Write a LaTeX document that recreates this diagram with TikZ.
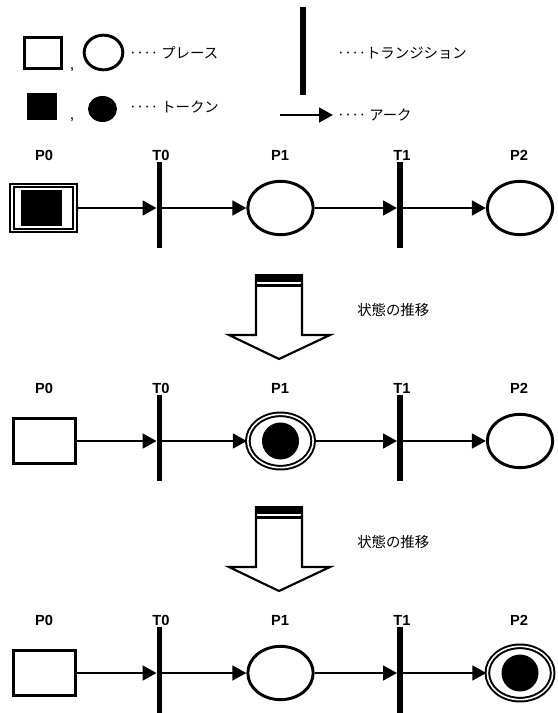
\documentclass[tikz,border=0pt]{standalone}
\usepackage{fontspec}
\setmainfont{Liberation Sans}
\newfontfamily\jpfont{Noto Sans CJK JP}
\usetikzlibrary{arrows.meta,shapes.geometric}

\tikzset{
	place/.style={draw, line width=2.2pt, minimum width=47pt, minimum height=33.5pt, inner sep=0pt},
	state/.style={draw, ellipse, line width=2.2pt, minimum width=49pt, minimum height=40pt, inner sep=0pt},
	marked/.style={double, line width=1.5pt, double distance=1.2pt},
	token/.style={fill, ellipse, inner sep=0pt, minimum width=27.75pt, minimum height=27.75pt},
	bar/.style={fill, inner sep=0pt, minimum width=4pt, minimum height=65pt},
	arc/.style={line width=2pt, -{Triangle[length=10.5pt,width=11pt]}},
	lbl/.style={font=\bfseries\fontsize{11}{13}\selectfont, inner sep=0pt},
	jp/.style={font=\jpfont\fontsize{10.8}{13}\selectfont, inner sep=0pt, anchor=west}
}

\begin{document}
\begin{tikzpicture}[x=0.75pt,y=0.75pt,yscale=-1,xscale=1]
	\useasboundingbox (0,0) rectangle (557,713);
	% legend
	\node [place, minimum width=28pt, minimum height=23.5pt] (keyplace) at (43,53) {};
	\node [font=\fontsize{12}{14}\selectfont, inner sep=0pt, anchor=base] (keycommaa) at (72,70) {,};
	\node [state, minimum width=29pt, minimum height=26pt] (keystate) at (103.5,52.5) {};
	\node [jp] (keyplacetxt) at (129,53) {‥‥ プレース};
	\node [fill, inner sep=0pt, minimum width=22.5pt, minimum height=20.25pt] (keytokensq) at (42,106.5) {};
	\node [font=\fontsize{12}{14}\selectfont, inner sep=0pt, anchor=base] (keycommab) at (72,120) {,};
	\node [token, minimum width=21.75pt, minimum height=19.5pt] (keytoken) at (102.5,109) {};
	\node [jp] (keytokentxt) at (129,107) {‥‥ トークン};
	\node [bar, minimum height=66pt] (keybar) at (303,51) {};
	\node [jp] (keybartxt) at (337,53) {‥‥トランジション};
	\coordinate (keyarcfrom) at (280,115);
	\coordinate (keyarcto) at (333,115);
	\draw [arc] (keyarcfrom) -- (keyarcto);
	\node [jp] (keyarctxt) at (337,115) {‥‥ アーク};

	% first state
	\node [lbl] (p0al) at (44,155) {P0};
	\node [lbl] (t0al) at (161,155) {T0};
	\node [lbl] (p1al) at (280,155) {P1};
	\node [lbl] (t1al) at (402,155) {T1};
	\node [lbl] (p2al) at (519,155) {P2};
	\node [place, marked] (p0a) at (43.5,208) {};
	\node [fill, inner sep=0pt, minimum width=30.75pt, minimum height=27pt] (tka) at (41.5,208) {};
	\node [bar] (t0a) at (159.5,205) {};
	\node [state] (p1a) at (280.5,208) {};
	\node [bar] (t1a) at (400,205) {};
	\node [state] (p2a) at (520,208) {};
	\draw [arc] (p0a) -- (t0a.west |- p0a);
	\draw [arc] (t0a.east |- p1a) -- (p1a);
	\draw [arc] (p1a) -- (t1a.west |- p1a);
	\draw [arc] (t1a.east |- p2a) -- (p2a);

	% shift
	\fill (256,274) rectangle (302,281.5);
	\draw [line width=1.6pt, line join=miter] (256,274) -- (256,335) -- (229,335) -- (279,359) -- (330,335) -- (302,335) -- (302,274);
	\draw [line width=1.6pt] (256,285.5) -- (302,285.5);
	\node [jp] (shifta) at (357,310) {状態の推移};

	% second state
	\node [lbl] (p0bl) at (44,388) {P0};
	\node [lbl] (t0bl) at (161,388) {T0};
	\node [lbl] (p1bl) at (280,388) {P1};
	\node [lbl] (t1bl) at (402,388) {T1};
	\node [lbl] (p2bl) at (519,388) {P2};
	\node [place] (p0b) at (44.5,441) {};
	\node [bar] (t0b) at (159.5,438) {};
	\node [state, marked] (p1b) at (280.5,441) {};
	\node [token] (tkb) at (280.5,441) {};
	\node [bar] (t1b) at (400,438) {};
	\node [state] (p2b) at (520,441) {};
	\draw [arc] (p0b) -- (t0b.west |- p0b);
	\draw [arc] (t0b.east |- p1b) -- (p1b);
	\draw [arc] (p1b) -- (t1b.west |- p1b);
	\draw [arc] (t1b.east |- p2b) -- (p2b);

	% shift
	\fill (256,506) rectangle (302,513.5);
	\draw [line width=1.6pt, line join=miter] (256,506) -- (256,567) -- (229,567) -- (279,591) -- (330,567) -- (302,567) -- (302,506);
	\draw [line width=1.6pt] (256,517.5) -- (302,517.5);
	\node [jp] (shiftb) at (357,542) {状態の推移};

	% third state
	\node [lbl] (p0cl) at (44,620) {P0};
	\node [lbl] (t0cl) at (161,620) {T0};
	\node [lbl] (p1cl) at (280,620) {P1};
	\node [lbl] (t1cl) at (402,620) {T1};
	\node [lbl] (p2cl) at (519,620) {P2};
	\node [place] (p0c) at (44.5,673) {};
	\node [bar] (t0c) at (159.5,670) {};
	\node [state] (p1c) at (280.5,673) {};
	\node [bar] (t1c) at (400,670) {};
	\node [state, marked] (p2c) at (520,673) {};
	\node [token] (tkc) at (520,673) {};
	\draw [arc] (p0c) -- (t0c.west |- p0c);
	\draw [arc] (t0c.east |- p1c) -- (p1c);
	\draw [arc] (p1c) -- (t1c.west |- p1c);
	\draw [arc] (t1c.east |- p2c) -- (p2c);
\end{tikzpicture}
\end{document}
